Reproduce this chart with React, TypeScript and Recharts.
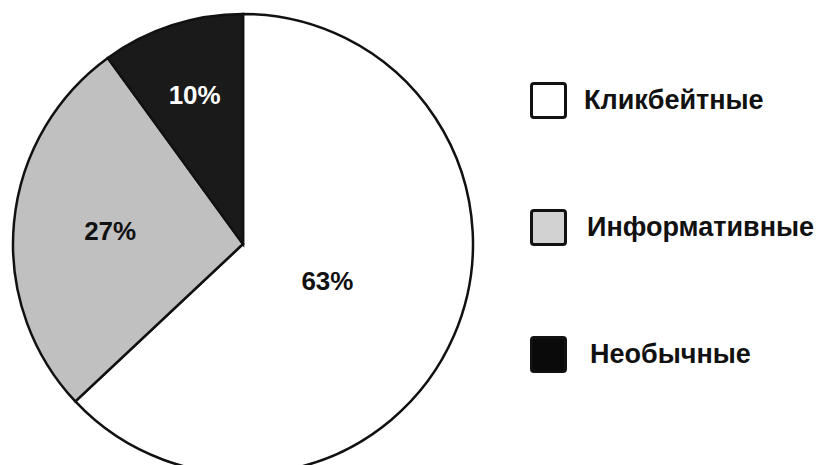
import { Cell, Legend, Pie, PieChart } from 'recharts'

const categories = ['Кликбейтные', 'Информативные', 'Необычные']
const shares = [63, 27, 10]
const fills = ['#ffffff', '#c0c0c0', '#1a1a1a']
const legendFills = ['#ffffff', '#d2d2d2', '#0a0a0a']
const labelColors = ['#111111', '#111111', '#ffffff']
// how far out each label sits, as a fraction of the radius
const labelRadius = [0.4, 0.58, 0.68]

const data = categories.map((name, i) => ({ name, value: shares[i] }))

const RAD = Math.PI / 180

function SliceLabel(props: any) {
  const { cx, cy, midAngle, outerRadius, index, value } = props
  const r = outerRadius * labelRadius[index]
  const x = cx + r * Math.cos(-midAngle * RAD)
  const y = cy + r * Math.sin(-midAngle * RAD)
  return (
    <text
      x={x}
      y={y}
      fill={labelColors[index]}
      textAnchor="middle"
      dominantBaseline="central"
      fontSize={26}
      fontWeight={700}
    >
      {value}%
    </text>
  )
}

function LegendBox() {
  return (
    <div>
      {categories.map((name, i) => (
        <div
          key={name}
          style={{ display: 'flex', alignItems: 'center', height: 37, marginBottom: i < 2 ? 90 : 0 }}
        >
          <div
            style={{
              width: 31,
              height: 31,
              border: '3px solid #111',
              borderRadius: 4,
              background: legendFills[i],
              marginRight: 17 + i * 3,
            }}
          />
          <span style={{ fontSize: 27, fontWeight: 700, color: '#111' }}>{name}</span>
        </div>
      ))}
    </div>
  )
}

export default function App() {
  return (
    <div
      style={{
        position: 'absolute',
        top: 0,
        left: 0,
        width: 820,
        height: 465,
        background: '#fff',
        fontFamily: '"Liberation Sans", Arial, sans-serif',
      }}
    >
      <PieChart width={820} height={465} margin={{ top: 0, right: 0, bottom: 0, left: 0 }}>
        <Pie
          data={data}
          dataKey="value"
          nameKey="name"
          cx={243}
          cy={244}
          outerRadius={230}
          startAngle={90}
          endAngle={-270}
          stroke="#111"
          strokeWidth={2.5}
          labelLine={false}
          label={SliceLabel}
          isAnimationActive={false}
        >
          {data.map((d, i) => (
            <Cell key={d.name} fill={fills[i]} />
          ))}
        </Pie>
        <Legend
          content={<LegendBox />}
          layout="vertical"
          wrapperStyle={{ position: 'absolute', top: 82, left: 530, width: 290 }}
        />
      </PieChart>
    </div>
  )
}
